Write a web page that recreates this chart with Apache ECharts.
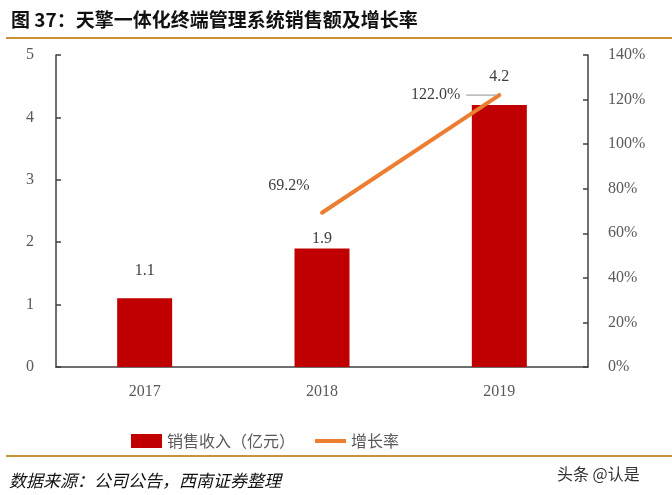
<!DOCTYPE html>
<html><head><meta charset="utf-8">
<script src="https://cdn.jsdelivr.net/npm/echarts@6/dist/echarts.min.js"></script>
<style>html,body{margin:0;padding:0;background:#fff}#c{width:672px;height:495px}</style>
</head><body><div id="c"></div>
<script>
const categories = ['2017', '2018', '2019'];
const salesValues = [1.1, 1.9, 4.2];
const growthValues = [null, 69.2, 122.0];
const leftTicks = {min: 0, max: 5, interval: 1};
const rightTicks = {min: 0, max: 140, interval: 20};
const salesName = '销售收入（亿元）';
const growthName = '增长率';

const chart = echarts.init(document.getElementById('c'));
const serif = '"Liberation Serif", "DejaVu Serif", serif';
const cjk = '"Noto Sans CJK SC", sans-serif';
const barLabelDist = [20, 2, 20];

chart.setOption({
  animation: false,
  title: [{
    text: '图 37：天擎一体化终端管理系统销售额及增长率',
    left: 6, top: 5,
    textStyle: {fontFamily: cjk, fontWeight: 'bold', fontSize: 19, color: '#111'}
  }, {
    text: '数据来源：公司公告，西南证券整理',
    left: 4, top: 467,
    textStyle: {fontFamily: cjk, fontStyle: 'italic', fontWeight: 'normal', fontSize: 17, color: '#111'}
  }, {
    text: '头条 @认是',
    left: 552, top: 461,
    textStyle: {fontFamily: cjk, fontWeight: 'normal', fontSize: 16, color: '#333'}
  }],
  graphic: [
    {type: 'line', shape: {x1: 6, y1: 38, x2: 672, y2: 38}, style: {stroke: '#C8923A', lineWidth: 2}},
    {type: 'line', shape: {x1: 6, y1: 456, x2: 672, y2: 456}, style: {stroke: '#C8923A', lineWidth: 2}}
  ],
  legend: {
    top: 428, left: 126,
    itemWidth: 31, itemHeight: 14, itemGap: 20,
    textStyle: {fontFamily: cjk, fontSize: 16, color: '#595959'},
    data: [
      {name: salesName, icon: 'rect'},
      {name: growthName, icon: 'path://M0,0 L31,0 L31,4 L0,4 Z'}
    ]
  },
  grid: {left: 56, right: 84, top: 55, bottom: 128},
  xAxis: {
    type: 'category', data: categories,
    axisLine: {lineStyle: {color: '#404040', width: 1.5}},
    axisTick: {show: false},
    axisLabel: {fontFamily: serif, fontSize: 16, color: '#595959', margin: 17}
  },
  yAxis: [{
    type: 'value', min: leftTicks.min, max: leftTicks.max, interval: leftTicks.interval,
    splitLine: {show: false},
    axisLine: {show: true, lineStyle: {color: '#404040', width: 1.5}},
    axisTick: {show: true, inside: false, length: -5, lineStyle: {color: '#404040', width: 1.5}},
    axisLabel: {fontFamily: serif, fontSize: 16, color: '#595959', margin: 22}
  }, {
    type: 'value', min: rightTicks.min, max: rightTicks.max, interval: rightTicks.interval,
    position: 'right',
    splitLine: {show: false},
    axisLine: {show: true, lineStyle: {color: '#404040', width: 1.5}},
    axisTick: {show: true, inside: false, length: -5, lineStyle: {color: '#404040', width: 1.5}},
    axisLabel: {fontFamily: serif, fontSize: 16, color: '#595959', margin: 20, formatter: '{value}%'}
  }],
  series: [{
    name: salesName, type: 'bar', yAxisIndex: 0,
    barWidth: 55,
    itemStyle: {color: '#C00000'},
    data: salesValues.map((v, i) => ({
      value: v,
      label: {show: true, position: 'top', distance: barLabelDist[i],
        fontFamily: serif, fontSize: 16, color: '#404040'}
    }))
  }, {
    name: growthName, type: 'line', yAxisIndex: 1,
    lineStyle: {color: '#ED7D31', width: 4},
    itemStyle: {color: '#ED7D31'},
    symbol: 'circle', symbolSize: 4, showSymbol: true,
    label: {show: true, fontFamily: serif, fontSize: 16, color: '#404040',
      formatter: p => p.value == null ? '' : p.value.toFixed(1) + '%'},
    labelLayout: p => p.dataIndex === 1 ? {dx: -33, dy: -12} : {},
    data: growthValues.map((v, i) => i === 2 ? {
      value: v,
      label: {position: 'left', distance: 0,
        formatter: p => p.value.toFixed(1) + '%{gap|}{lead|}',
        rich: {gap: {width: 6}, lead: {width: 31, height: 0, borderColor: '#A6A6A6', borderWidth: 0.8}}}
    } : {value: v})
  }]
});
</script></body></html>
